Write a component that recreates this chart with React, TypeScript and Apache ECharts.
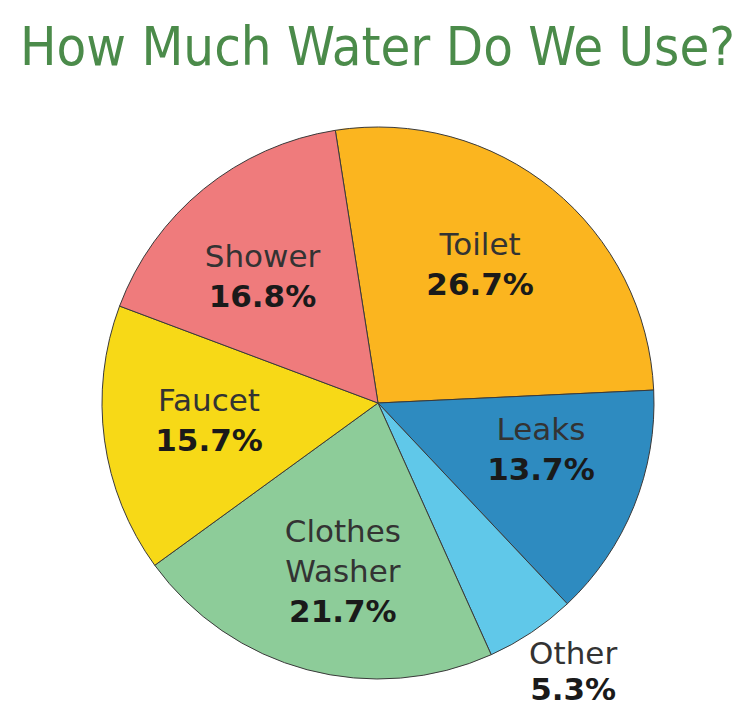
import React, { useEffect, useRef } from "react";
import * as echarts from "echarts";

const categories = ["Toilet", "Leaks", "Other", "Clothes Washer", "Faucet", "Shower"];
const shares = [26.7, 13.7, 5.3, 21.7, 15.7, 16.8];
const colors = ["#fbb51f", "#2e8bc0", "#60c8e9", "#8dcc99", "#f7d917", "#ef7b7c"];
const outsideLabels = ["Other"];

const TITLE = "How Much Water Do We Use?";

// small label nudges (px) to follow the reference's label placement
const labelNudge: Record<string, [number, number]> = {
  Toilet: [-4, 1],
  Leaks: [-2, -14],
  "Clothes Washer": [4, -3],
  Faucet: [4, -13],
  Shower: [0, 5],
};

export default function App() {
  const ref = useRef<HTMLDivElement>(null);
  useEffect(() => {
    if (!ref.current) return;
    const chart = echarts.init(ref.current, undefined, { renderer: "svg" });
    const R = 276;
    const cx = 378;
    const cy = 403;
    const startAngle = 98.9;
    const data = categories.map((name, i) => ({
      name,
      value: shares[i],
      itemStyle: { color: colors[i] },
    }));
    const fmt = (p: any) =>
      String(p.name)
        .split(" ")
        .map((s: string) => `{n|${s}}`)
        .join("\n") + `\n{v|${Number(p.value).toFixed(1)}%}`;
    const makeRich = (lh: number) => ({
      n: { fontFamily: "DejaVu Sans", fontSize: 31, color: "#333333", lineHeight: lh },
      v: { fontFamily: "DejaVu Sans", fontSize: 31, fontWeight: "bold", color: "#1a1a1a", lineHeight: lh },
    });
    const invisible = { color: "rgba(0,0,0,0)", borderWidth: 0 };
    chart.setOption({
      animation: false,
      title: {
        text: TITLE,
        left: 20,
        top: 19,
        padding: 0,
        textStyle: {
          fontFamily: "DejaVu Sans Condensed",
          fontSize: 54,
          fontWeight: "normal",
          color: "#4b8b4a",
        },
      },
      series: [
        {
          type: "pie",
          center: [cx, cy],
          radius: [0, R],
          startAngle,
          clockwise: true,
          silent: true,
          label: { show: false },
          labelLine: { show: false },
          itemStyle: { borderColor: "#3a3a3a", borderWidth: 1 },
          emphasis: { disabled: true },
          data,
        },
        {
          type: "pie",
          center: [cx, cy],
          radius: [0, R * 1.25],
          startAngle: startAngle + 2,
          clockwise: true,
          silent: true,
          z: 5,
          itemStyle: invisible,
          labelLine: { show: false },
          emphasis: { disabled: true },
          label: { show: true, position: "inside", formatter: fmt, rich: makeRich(40) },
          labelLayout: (params: any) => {
            const nd = labelNudge[categories[params.dataIndex]] || [0, 0];
            return { dx: nd[0], dy: nd[1] };
          },
          data: categories.map((name, i) => ({
            name,
            value: shares[i],
            itemStyle: invisible,
            label: { show: !outsideLabels.includes(name) },
          })),
        },
        {
          type: "pie",
          center: [cx, cy],
          radius: [0, R * 2.38],
          startAngle: startAngle + 2.3,
          clockwise: true,
          silent: true,
          z: 5,
          itemStyle: invisible,
          labelLine: { show: false },
          emphasis: { disabled: true },
          label: { show: true, position: "inside", formatter: fmt, rich: makeRich(36) },
          data: categories.map((name, i) => ({
            name,
            value: shares[i],
            itemStyle: invisible,
            label: { show: outsideLabels.includes(name) },
          })),
        },
      ],
    });
    return () => chart.dispose();
  }, []);
  return (
    <div
      ref={ref}
      style={{ position: "absolute", left: 0, top: 0, width: 750, height: 707, background: "#ffffff" }}
    />
  );
}
